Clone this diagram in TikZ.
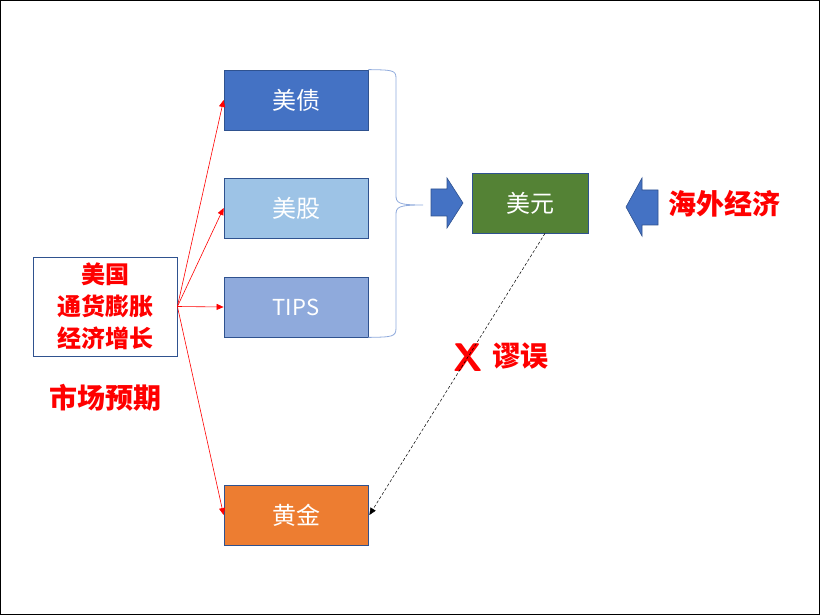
\documentclass[tikz,border=0pt]{standalone}
\usepackage{fontspec}
\setmainfont{Noto Sans CJK SC}
\usetikzlibrary{arrows.meta,calc}
\definecolor{bdark}{HTML}{2F528F}
\definecolor{bmid}{HTML}{4472C4}
\definecolor{blight}{HTML}{9DC3E6}
\definecolor{btips}{HTML}{8FAADC}
\definecolor{gold}{HTML}{ED7D31}
\definecolor{usd}{HTML}{548235}
\definecolor{myred}{HTML}{FF0000}
\tikzset{
  asset/.style={draw=bdark, line width=0.8pt, minimum width=144pt, minimum height=60pt, text=white, font=\fontsize{24}{28}\selectfont, inner sep=0pt},
  redarr/.style={draw=myred, line width=0.6pt, -{Triangle[length=7pt,width=6pt]}},
  redlbl/.style={text=myred, font=\bfseries\fontsize{28}{32}\selectfont},
  blockarr/.style={fill=bmid, draw=bdark, line width=0.6pt}
}
\begin{document}
\begin{tikzpicture}[x=1pt,y=-1pt]
\useasboundingbox (0,0) rectangle (820,615);
\draw[black, line width=1.2pt] (0.6,0.6) rectangle (819.4,614.4);
\node[asset, fill=bmid] (zhai) at (296,100) {美债};
\node[asset, fill=blight] (gu) at (296,208) {美股};
\node[asset, fill=btips, font=\fontsize{22}{26}\selectfont] (tips) at (296,307) {TIPS};
\node[asset, fill=gold] (jin) at (296,515) {黄金};
\node[asset, fill=usd, minimum width=116pt] (usd) at (530,203) {美元};
\node[draw=bdark, line width=0.8pt, fill=white, minimum width=144pt, minimum height=99pt, align=center, text=myred, font=\bfseries\fontsize{24}{32}\selectfont, inner sep=0pt] (src) at (105,306.5) {美国\\通货膨胀\\经济增长};
\node[redlbl] (sc) at (105,398) {市场预期};
\node[redlbl] (hw) at (724,204) {海外经济};
\node[text=myred, font=\sffamily\bfseries\fontsize{40}{42}\selectfont] (x) at (468,358) {X};
\node[redlbl] (mw) at (520,356) {谬误};
\coordinate (s) at (src.east);
\draw[redarr] (s) -- (zhai.west);
\draw[redarr] (s) -- (gu.west);
\draw[redarr] (s) -- (tips.west);
\draw[redarr] (s) -- (jin.west);
% brace
\coordinate (btop) at (zhai.north east);
\coordinate (bbot) at (tips.south east);
\coordinate (btip) at (423,205);
\draw[btips, line width=0.8pt] (btop) .. controls (392,70) and (396,70) .. (396,78) -- (396,195) .. controls (396,203) and (398,205) .. (btip) .. controls (398,205) and (396,207) .. (396,215) -- (396,328) .. controls (396,337) and (392,337) .. (bbot);
% block arrows
\draw[blockarr] (431,189) -- (447,189) -- (447,178) -- (463,203) -- (447,228) -- (447,216) -- (431,216) -- cycle;
\draw[blockarr] (658,190) -- (642,190) -- (642,178) -- (626,207) -- (642,236) -- (642,225) -- (658,225) -- cycle;
% dashed
\coordinate (ds) at ($(usd.south)+(15,0)$);
\draw[black, line width=0.5pt, dash pattern=on 3pt off 2pt, -{Triangle[length=7pt,width=6pt]}] (ds) -- ($(jin.east)+(1,0)$);
\end{tikzpicture}
\end{document}
